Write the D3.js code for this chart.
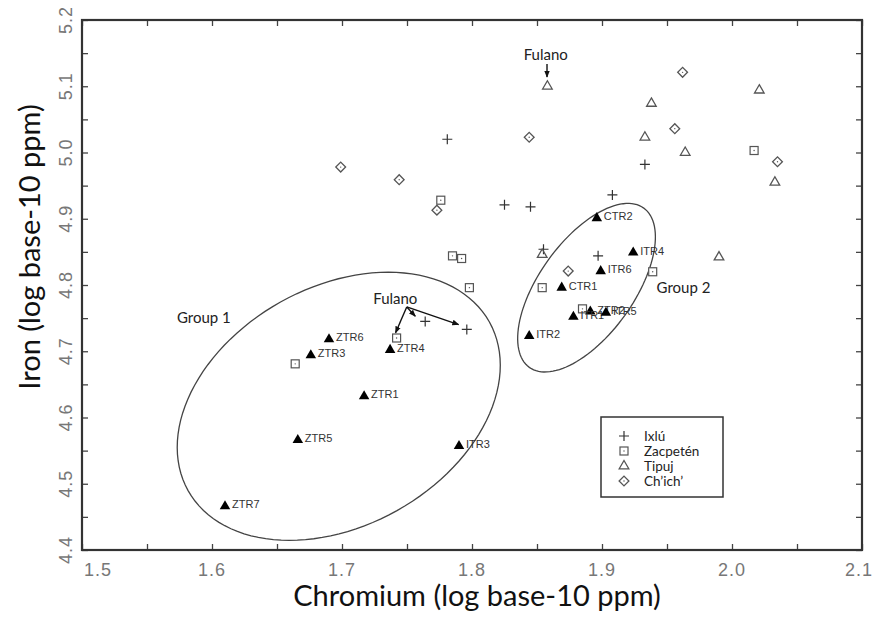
<!DOCTYPE html>
<html>
<head>
<meta charset="utf-8">
<script src="https://cdn.jsdelivr.net/npm/d3@7/dist/d3.min.js"></script>
<style>
  body { margin: 0; background: #fff; }
  svg { display: block; }
</style>
</head>
<body>
<div id="chart"></div>
<script>
// Cr / Fe (log10 ppm) for each site
var ixlu = [[1.781, 5.020], [1.933, 4.982], [1.908, 4.936], [1.825, 4.921], [1.845, 4.918],
            [1.855, 4.854], [1.897, 4.844], [1.764, 4.745], [1.796, 4.733]];
var zacpeten = [[1.776, 4.928], [1.785, 4.844], [1.792, 4.840], [1.798, 4.796], [1.854, 4.796],
                [1.939, 4.820], [2.017, 5.003], [1.885, 4.764], [1.742, 4.720], [1.664, 4.681]];
var tipuj = [[1.858, 5.100], [1.938, 5.074], [1.933, 5.023], [1.964, 5.000], [2.021, 5.094],
             [2.033, 4.955], [1.990, 4.842], [1.854, 4.846]];
var chich = [[1.699, 4.978], [1.744, 4.959], [1.773, 4.913], [1.844, 5.023], [1.962, 5.121],
             [1.956, 5.036], [2.035, 4.986], [1.874, 4.821]];

// labelled reference samples (filled triangles)
var refNames = ["ZTR1", "ZTR2", "ZTR3", "ZTR4", "ZTR5", "ZTR6", "ZTR7",
                "ITR1", "ITR2", "ITR3", "ITR4", "ITR5", "ITR6", "CTR1", "CTR2"];
var refCr = [1.717, 1.891, 1.676, 1.737, 1.666, 1.690, 1.610,
             1.878, 1.844, 1.790, 1.924, 1.903, 1.899, 1.869, 1.896];
var refFe = [4.632, 4.760, 4.694, 4.702, 4.566, 4.718, 4.466,
             4.752, 4.723, 4.557, 4.849, 4.758, 4.821, 4.796, 4.901];

// group ellipses: centre and two half-axis vectors, in data units
var groupNames = ["Group 1", "Group 2"];
var groupCentre = [[1.6975, 4.6169], [1.8881, 4.7959]];
var groupAxisA = [[0.1159, 0.1272], [0.0440, 0.1202]];
var groupAxisB = [[0.0448, -0.1574], [0.0295, -0.0417]];
var groupLabelAt = [[1.573, 4.742], [1.942, 4.788]];

// "Fulano" call-outs: label anchor, arrow start, arrow tips
var fulanoLabels = [[1.8567, 5.1396], [1.741, 4.771]];
var fulanoArrows = [
  [[1.8577, 5.1335], [1.8577, 5.1140]],
  [[1.7498, 4.7669], [1.7412, 4.7279]],
  [[1.7498, 4.7669], [1.7564, 4.7529]],
  [[1.7498, 4.7669], [1.7897, 4.7403]]
];

var xMajor = ["1.5", "1.6", "1.7", "1.8", "1.9", "2.0", "2.1"];
var yMajor = ["4.4", "4.5", "4.6", "4.7", "4.8", "4.9", "5.0", "5.1", "5.2"];

var margin = {top: 20, right: 13, bottom: 67, left: 82},
    width = 875 - margin.left - margin.right,
    height = 617 - margin.top - margin.bottom;

var x = d3.scaleLinear().domain([1.5, 2.1]).range([0, width]);
var y = d3.scaleLinear().domain([4.4, 5.2]).range([height, 0]);

var svg = d3.select("#chart").append("svg")
    .attr("width", 875)
    .attr("height", 617);

var defs = svg.append("defs");
defs.append("marker")
    .attr("id", "arrow")
    .attr("viewBox", "0 0 10 10")
    .attr("refX", 9).attr("refY", 5)
    .attr("markerWidth", 5).attr("markerHeight", 5)
    .attr("markerUnits", "strokeWidth")
    .attr("orient", "auto")
  .append("path")
    .attr("d", "M0,1 L10,5 L0,9 z")
    .attr("fill", "#111");

var g = svg.append("g")
    .attr("transform", "translate(" + margin.left + "," + margin.top + ")");

// ticks on all four sides, pointing inward
var xt = d3.range(0, 13).map(function(i) { return 1.5 + i * 0.05; });
var yt = d3.range(0, 17).map(function(i) { return 4.4 + i * 0.05; });
var tickLen = 6;

g.append("g").attr("transform", "translate(0," + height + ")")
    .call(d3.axisBottom(x).tickValues(xt).tickSizeInner(-tickLen).tickSizeOuter(0).tickFormat(""));
g.append("g")
    .call(d3.axisTop(x).tickValues(xt).tickSizeInner(-tickLen).tickSizeOuter(0).tickFormat(""));
g.append("g")
    .call(d3.axisLeft(y).tickValues(yt).tickSizeInner(-tickLen).tickSizeOuter(0).tickFormat(""));
g.append("g").attr("transform", "translate(" + width + ",0)")
    .call(d3.axisRight(y).tickValues(yt).tickSizeInner(-tickLen).tickSizeOuter(0).tickFormat(""));

g.selectAll(".domain").remove();
g.selectAll(".tick line").attr("stroke", "#444").attr("stroke-width", 1.3);

g.append("rect")
    .attr("width", width).attr("height", height)
    .attr("fill", "none")
    .attr("stroke", "#333")
    .attr("stroke-width", 2.2);

// tick labels (first and last nudged inside, as in the original)
var lastX = xMajor.length - 1;
g.selectAll(".xlab")
    .data(xMajor)
  .enter().append("text")
    .attr("class", "xlab")
    .attr("x", function(d, i) {
      if (i === 0) return x(+d) + 2;
      if (i === lastX) return x(+d) + 11;
      return x(+d);
    })
    .attr("y", height + 26)
    .attr("text-anchor", function(d, i) {
      return i === 0 ? "start" : (i === lastX ? "end" : "middle");
    })
    .style("font-family", "'Liberation Sans', Arial, sans-serif")
    .style("font-size", "18px")
    .style("letter-spacing", "1px")
    .attr("fill", "#777")
    .text(function(d) { return d; });

g.selectAll(".ylab")
    .data(yMajor)
  .enter().append("text")
    .attr("class", "ylab")
    .attr("transform", function(d) { return "translate(-10," + y(+d) + ") rotate(-90)"; })
    .attr("text-anchor", "middle")
    .style("font-family", "'Liberation Sans', Arial, sans-serif")
    .style("font-size", "18px")
    .style("letter-spacing", "1px")
    .attr("fill", "#777")
    .text(function(d) { return d; });

// axis titles
svg.append("text")
    .attr("x", 477)
    .attr("y", 606)
    .attr("text-anchor", "middle")
    .style("font-family", "Lato, 'Open Sans', sans-serif")
    .style("font-size", "29px")
    .attr("fill", "#111")
    .text("Chromium (log base-10 ppm)");

svg.append("text")
    .attr("transform", "translate(40,247) rotate(-90)")
    .attr("text-anchor", "middle")
    .style("font-family", "Lato, 'Open Sans', sans-serif")
    .style("font-size", "29px")
    .attr("fill", "#111")
    .text("Iron (log base-10 ppm)");

// group ellipses
var ellipseLine = d3.line()
    .x(function(d) { return x(d[0]); })
    .y(function(d) { return y(d[1]); })
    .curve(d3.curveLinearClosed);

groupNames.forEach(function(name, i) {
  var c = groupCentre[i], a = groupAxisA[i], b = groupAxisB[i];
  var pts = d3.range(0, 120).map(function(k) {
    var t = k / 120 * 2 * Math.PI;
    return [c[0] + a[0] * Math.cos(t) + b[0] * Math.sin(t),
            c[1] + a[1] * Math.cos(t) + b[1] * Math.sin(t)];
  });
  g.append("path")
      .attr("d", ellipseLine(pts))
      .attr("fill", "none")
      .attr("stroke", "#444")
      .attr("stroke-width", 1.3);
  g.append("text")
      .attr("x", x(groupLabelAt[i][0]))
      .attr("y", y(groupLabelAt[i][1]))
      .style("font-family", "Lato, 'Open Sans', sans-serif")
      .style("font-size", "15px")
      .attr("fill", "#222")
      .text(name);
});

var grey = "#555";

// Ixlú: plus
g.selectAll(".ixlu")
    .data(ixlu)
  .enter().append("path")
    .attr("class", "ixlu")
    .attr("transform", function(d) { return "translate(" + x(d[0]) + "," + y(d[1]) + ")"; })
    .attr("d", "M-5,0H5M0,-5V5")
    .attr("stroke", "#333")
    .attr("stroke-width", 1.2);

// Zacpetén: square with centre dot
var sq = g.selectAll(".zac")
    .data(zacpeten)
  .enter().append("g")
    .attr("class", "zac")
    .attr("transform", function(d) { return "translate(" + x(d[0]) + "," + y(d[1]) + ")"; });
sq.append("rect")
    .attr("x", -4).attr("y", -4).attr("width", 8).attr("height", 8)
    .attr("fill", "#fff").attr("stroke", grey).attr("stroke-width", 1.2);
sq.append("circle").attr("r", 0.7).attr("fill", grey);

// Tipuj: open triangle
g.selectAll(".tip")
    .data(tipuj)
  .enter().append("path")
    .attr("class", "tip")
    .attr("transform", function(d) { return "translate(" + x(d[0]) + "," + y(d[1]) + ")"; })
    .attr("d", d3.symbol().type(d3.symbolTriangle).size(40))
    .attr("fill", "none")
    .attr("stroke", grey)
    .attr("stroke-width", 1.3);

// Ch'ich': diamond with centre dot
var dm = g.selectAll(".chich")
    .data(chich)
  .enter().append("g")
    .attr("class", "chich")
    .attr("transform", function(d) { return "translate(" + x(d[0]) + "," + y(d[1]) + ")"; });
dm.append("path")
    .attr("d", d3.symbol().type(d3.symbolSquare).size(48))
    .attr("transform", "rotate(45)")
    .attr("fill", "#fff").attr("stroke", grey).attr("stroke-width", 1.3);
dm.append("circle").attr("r", 0.7).attr("fill", grey);

// reference samples
var refs = refNames.map(function(n, i) { return {name: n, cr: refCr[i], fe: refFe[i]}; });
var rg = g.selectAll(".ref")
    .data(refs)
  .enter().append("g")
    .attr("class", "ref")
    .attr("transform", function(d) { return "translate(" + x(d.cr) + "," + y(d.fe) + ")"; });
rg.append("path")
    .attr("d", d3.symbol().type(d3.symbolTriangle).size(48))
    .attr("fill", "#000");
rg.append("text")
    .attr("x", 7)
    .attr("y", 2)
    .style("font-family", "'Liberation Sans', Arial, sans-serif")
    .style("font-size", "11px")
    .attr("fill", "#333")
    .text(function(d) { return d.name; });

// Fulano call-outs
fulanoLabels.forEach(function(p) {
  g.append("text")
      .attr("x", x(p[0]))
      .attr("y", y(p[1]))
      .attr("text-anchor", "middle")
      .style("font-family", "Lato, 'Open Sans', sans-serif")
      .style("font-size", "15px")
      .attr("fill", "#222")
      .text("Fulano");
});
fulanoArrows.forEach(function(a) {
  g.append("line")
      .attr("x1", x(a[0][0])).attr("y1", y(a[0][1]))
      .attr("x2", x(a[1][0])).attr("y2", y(a[1][1]))
      .attr("stroke", "#111")
      .attr("stroke-width", 1.4)
      .attr("marker-end", "url(#arrow)");
});

// legend
var legendItems = ["Ixlú", "Zacpetén", "Tipuj", "Ch’ich’"];
var legend = g.append("g")
    .attr("transform", "translate(" + (601 - margin.left) + "," + (417 - margin.top) + ")");
legend.append("rect")
    .attr("width", 122).attr("height", 80)
    .attr("fill", "#fff")
    .attr("stroke", "#333")
    .attr("stroke-width", 1.5);
var li = legend.selectAll(".li")
    .data(legendItems)
  .enter().append("g")
    .attr("class", "li")
    .attr("transform", function(d, i) { return "translate(23," + (19 + i * 15) + ")"; });
li.append("text")
    .attr("x", 20)
    .attr("y", 5)
    .style("font-family", "Lato, 'Open Sans', sans-serif")
    .style("font-size", "13.5px")
    .attr("fill", "#222")
    .text(function(d) { return d; });
li.each(function(d, i) {
  var s = d3.select(this);
  if (i === 0) {
    s.append("path").attr("d", "M-5,0H5M0,-5V5").attr("stroke", "#333").attr("stroke-width", 1.2);
  } else if (i === 1) {
    s.append("rect").attr("x", -4).attr("y", -4).attr("width", 8).attr("height", 8)
        .attr("fill", "none").attr("stroke", grey).attr("stroke-width", 1.2);
    s.append("circle").attr("r", 0.7).attr("fill", grey);
  } else if (i === 2) {
    s.append("path").attr("d", d3.symbol().type(d3.symbolTriangle).size(40))
        .attr("fill", "none").attr("stroke", grey).attr("stroke-width", 1.3);
  } else {
    s.append("path").attr("d", d3.symbol().type(d3.symbolSquare).size(48))
        .attr("transform", "rotate(45)")
        .attr("fill", "none").attr("stroke", grey).attr("stroke-width", 1.3);
    s.append("circle").attr("r", 0.7).attr("fill", grey);
  }
});
</script>
</body>
</html>
